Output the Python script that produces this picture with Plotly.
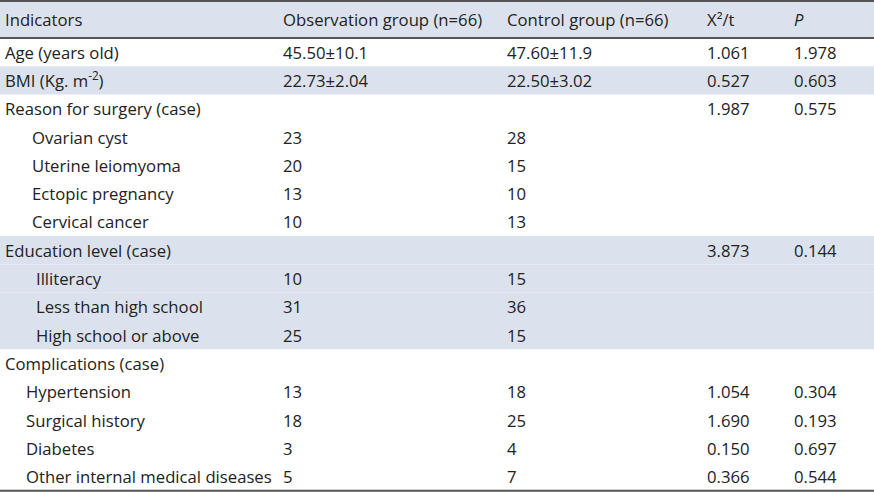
import plotly.graph_objects as go

headers = ["Indicators", "Observation group (n=66)", "Control group (n=66)", "X²/t", "<i>P</i>"]
indicators = ["Age (years old)", "BMI (Kg. m<sup>-2</sup>)", "Reason for surgery (case)",
              "Ovarian cyst", "Uterine leiomyoma", "Ectopic pregnancy", "Cervical cancer",
              "Education level (case)", "Illiteracy", "Less than high school", "High school or above",
              "Complications (case)", "Hypertension", "Surgical history", "Diabetes",
              "Other internal medical diseases"]
observation = ["45.50±10.1", "22.73±2.04", "", "23", "20", "13", "10", "", "10", "31", "25",
               "", "13", "18", "3", "5"]
control = ["47.60±11.9", "22.50±3.02", "", "28", "15", "10", "13", "", "15", "36", "15",
           "", "18", "25", "4", "7"]
chi_t = ["1.061", "0.527", "1.987", "", "", "", "", "3.873", "", "", "", "", "1.054", "1.690",
         "0.150", "0.366"]
p_values = ["1.978", "0.603", "0.575", "", "", "", "", "0.144", "", "", "", "", "0.304", "0.193",
            "0.697", "0.544"]
indent_level = [0, 0, 0, 2, 2, 2, 2, 0, 3, 3, 3, 0, 1, 1, 1, 1]
shaded_rows = [1, 7, 8, 9, 10]

# layout geometry (pixels / row units)
W, H = 874, 492
col_x = [3, 281, 505, 705, 792]
indent_px = {0: 3, 1: 24, 2: 30, 3: 34}
header_y = -0.67
top_edge = -1.31
shade_col = "#DCE2ED"
line_col = "#555555"
txt_col = "#222222"
font_fam = "Open Sans, Liberation Sans, Arial, sans-serif"
fsize = 16.7

fig = go.Figure()
fig.add_trace(go.Scatter(x=[0, W], y=[0, 0], mode="markers", marker=dict(opacity=0),
                         hoverinfo="skip", showlegend=False))

shapes = []
shapes.append(dict(type="rect", xref="x", yref="y", x0=0, x1=W, y0=top_edge, y1=0,
                   fillcolor=shade_col, line=dict(width=0), layer="below"))
for r in shaded_rows:
    shapes.append(dict(type="rect", xref="x", yref="y", x0=0, x1=W, y0=r, y1=r + 1,
                       fillcolor=shade_col, line=dict(width=0), layer="below"))
n = len(indicators)
for yv, w in [(top_edge, 2), (0, 2), (n, 2)]:
    shapes.append(dict(type="line", xref="x", yref="y", x0=0, x1=W, y0=yv, y1=yv,
                       line=dict(color=line_col, width=w)))

ann = []
def add(text, x, y):
    ann.append(dict(text=text, x=x, y=y, xref="x", yref="y", xanchor="left", yanchor="middle",
                    showarrow=False, font=dict(family=font_fam, size=fsize, color=txt_col)))

for c, h in enumerate(headers):
    add(h, col_x[c], header_y)
for i in range(n):
    yc = i + 0.5
    add(indicators[i], indent_px[indent_level[i]], yc)
    for c, col in enumerate([observation, control, chi_t, p_values], start=1):
        if col[i]:
            add(col[i], col_x[c], yc)

fig.update_layout(
    width=W, height=H, margin=dict(l=0, r=0, t=0, b=0),
    paper_bgcolor="white", plot_bgcolor="white",
    xaxis=dict(range=[0, W], visible=False, fixedrange=True),
    yaxis=dict(range=[(H - 38) / 28.3, -38 / 28.3], visible=False, fixedrange=True),
    shapes=shapes, annotations=ann, showlegend=False,
)
fig.write_html("out.html", config={"displayModeBar": False},
               post_script="document.body.style.margin='0';document.body.style.overflow='hidden';")
